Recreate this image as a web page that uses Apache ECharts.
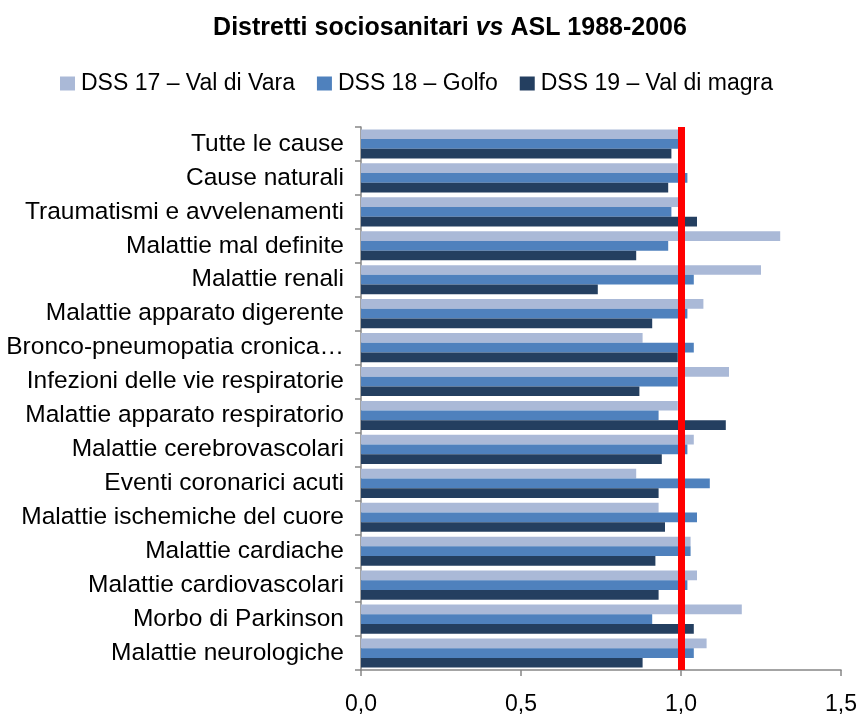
<!DOCTYPE html>
<html>
<head>
<meta charset="utf-8">
<script src="https://cdn.jsdelivr.net/npm/echarts@6/dist/echarts.min.js"></script>
<style>
  html, body { margin: 0; padding: 0; background: #fff; }
  #chart { width: 859px; height: 717px; }
</style>
</head>
<body>
<div id="chart"></div>
<script>
// categories, top to bottom as in the picture
const categories = [
    'Tutte le cause',
    'Cause naturali',
    'Traumatismi e avvelenamenti',
    'Malattie mal definite',
    'Malattie renali',
    'Malattie apparato digerente',
    'Bronco-pneumopatia cronica…',
    'Infezioni delle vie respiratorie',
    'Malattie apparato respiratorio',
    'Malattie cerebrovascolari',
    'Eventi coronarici acuti',
    'Malattie ischemiche del cuore',
    'Malattie cardiache',
    'Malattie cardiovascolari',
    'Morbo di Parkinson',
    'Malattie neurologiche'
];

const seriesNames = ['DSS 17 – Val di Vara', 'DSS 18 – Golfo', 'DSS 19 – Val di magra'];

const valDiVara = [1.00, 0.99, 1.01, 1.31, 1.25, 1.07, 0.88, 1.15, 0.99, 1.04, 0.86, 0.93, 1.03, 1.05, 1.19, 1.08];
const golfo     = [1.00, 1.02, 0.97, 0.96, 1.04, 1.02, 1.04, 0.99, 0.93, 1.02, 1.09, 1.05, 1.03, 1.02, 0.91, 1.04];
const valDiMagra = [0.97, 0.96, 1.05, 0.86, 0.74, 0.91, 0.99, 0.87, 1.14, 0.94, 0.93, 0.95, 0.92, 0.93, 1.04, 0.88];

const xTicks = [0, 0.5, 1.0, 1.5];
const referenceValue = 1.0;

const colors = ['#AAB9D7', '#4F81BD', '#243F60'];
const font = 'Liberation Sans';

let chart = echarts.init(document.getElementById('chart'));

const seriesData = [valDiVara, golfo, valDiMagra];
const seriesList = seriesData.map(function (values, i) {
    let s = {
        name: seriesNames[i],
        type: 'bar',
        data: values,
        barGap: '0%',
        barCategoryGap: '14%',
        itemStyle: {color: colors[i]}
    };
    if (i === 0) {
        s.markLine = {
            silent: true,
            symbol: 'none',
            label: {show: false},
            lineStyle: {color: '#FF0000', width: 7, type: 'solid'},
            data: [{xAxis: referenceValue}]
        };
    }
    return s;
});

let option = {
    animation: false,
    textStyle: {fontFamily: font},
    color: colors,
    title: {
        text: '{b|Distretti sociosanitari }{i|vs}{b| ASL 1988-2006}',
        left: 445,
        top: 11,
        textAlign: 'center',
        textStyle: {
            rich: {
                b: {fontFamily: font, fontWeight: 'bold', fontSize: 25, color: '#000'},
                i: {fontFamily: font, fontWeight: 'bold', fontStyle: 'italic', fontSize: 25, color: '#000'}
            }
        }
    },
    legend: {
        left: 55,
        top: 67,
        icon: 'rect',
        itemWidth: 15,
        itemHeight: 14,
        itemGap: 22,
        textStyle: {fontFamily: font, fontSize: 23, color: '#000', padding: [0, 0, 0, 1]},
        data: seriesNames
    },
    grid: {
        left: 361,
        right: 18,
        top: 127,
        bottom: 47,
        outerBoundsMode: 'none'
    },
    xAxis: {
        type: 'value',
        min: 0,
        max: 1.5,
        interval: 0.5,
        splitLine: {show: false},
        axisLine: {show: true, lineStyle: {color: '#868686', width: 1.5}},
        axisTick: {show: true, length: 6, lineStyle: {color: '#868686', width: 1.5}},
        axisLabel: {
            fontFamily: font,
            fontSize: 23,
            color: '#000',
            margin: 23,
            formatter: function (v) {
                return v.toFixed(1).replace('.', ',');
            }
        }
    },
    yAxis: {
        type: 'category',
        inverse: true,
        data: categories,
        axisLine: {show: true, lineStyle: {color: '#868686', width: 1.5}},
        axisTick: {show: true, length: 6, lineStyle: {color: '#868686', width: 1.5}},
        axisLabel: {fontFamily: font, fontSize: 24.5, color: '#000', margin: 17}
    },
    series: seriesList
};
chart.setOption(option);
</script>
</body>
</html>
